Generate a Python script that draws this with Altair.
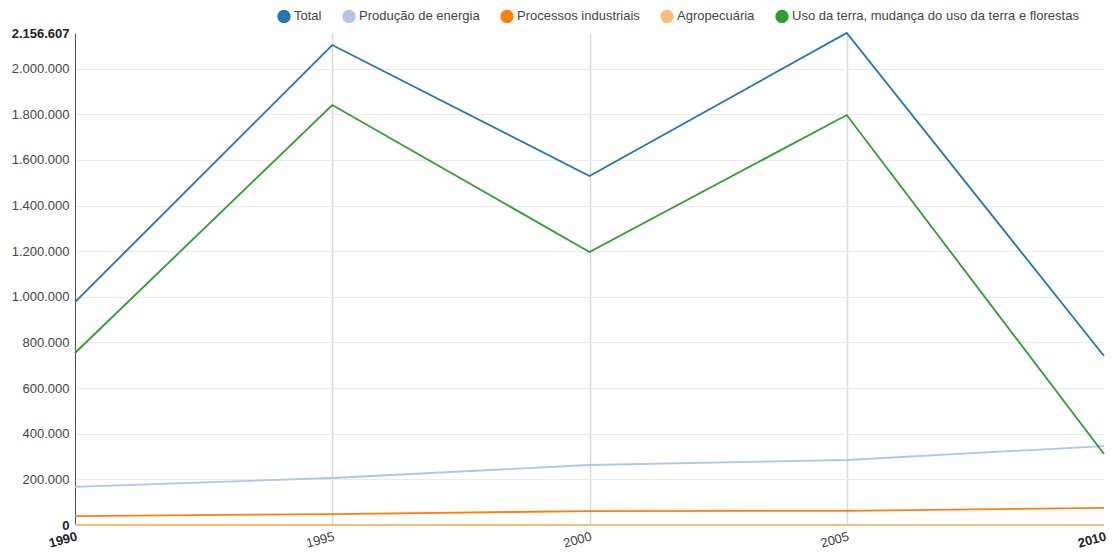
import altair as alt
import pandas as pd

# Emissões por setor (tCO2e), Brasil
anos = [1990, 1995, 2000, 2005, 2010]
total = [977000, 2104000, 1530000, 2156607, 741000]
producao_energia = [167000, 206000, 263000, 285000, 346000]
processos_industriais = [39000, 48000, 61000, 62000, 75000]
agropecuaria = [0, 0, 0, 0, 0]
uso_da_terra = [754000, 1841000, 1197000, 1797000, 311000]

series = {
    "Total": total,
    "Produção de energia": producao_energia,
    "Processos industriais": processos_industriais,
    "Agropecuária": agropecuaria,
    "Uso da terra, mudança do uso da terra e florestas": uso_da_terra,
}
nomes = list(series.keys())
cores = ["#1f77b4", "#aec7e8", "#ff7f0e", "#ffbb78", "#2ca02c"]

linhas = []
for nome, valores in series.items():
    for ano, v in zip(anos, valores):
        linhas.append({"Ano": ano, "Setor": nome, "Valor": v})
df = pd.DataFrame(linhas)

y_max = 2156607
y_ticks = [0, 200000, 400000, 600000, 800000, 1000000, 1200000,
           1400000, 1600000, 1800000, 2000000, y_max]

fmt_pt = "replace(format(datum.value, ','), regexp(',', 'g'), '.')"
extremos_y = f"datum.value == 0 || datum.value == {y_max}"
extremos_x = "datum.value == 1990 || datum.value == 2010"

chart = alt.Chart(df).mark_line(strokeWidth=1.8, interpolate="linear").encode(
    x=alt.X(
        "Ano:Q",
        scale=alt.Scale(domain=[1990, 2010], nice=False, zero=False),
        axis=alt.Axis(
            values=anos,
            format="d",
            title=None,
            labelAngle=345,
            labelAlign="right",
            labelBaseline="top",
            labelFontSize=13,
            labelColor={"condition": {"test": extremos_x, "value": "#222222"}, "value": "#444444"},
            labelFontWeight={"condition": {"test": extremos_x, "value": "bold"}, "value": "normal"},
            labelPadding=5,
            ticks=False,
            domain=False,
            grid=True,
            gridColor="#d9d9d9",
            gridWidth=1.5,
            gridOpacity={"condition": {"test": extremos_x, "value": 0}, "value": 1},
        ),
    ),
    y=alt.Y(
        "Valor:Q",
        scale=alt.Scale(domain=[0, y_max], nice=False),
        axis=alt.Axis(
            values=y_ticks,
            labelExpr=fmt_pt,
            title=None,
            labelFontSize=13,
            labelColor={"condition": {"test": extremos_y, "value": "#222222"}, "value": "#444444"},
            labelFontWeight={"condition": {"test": extremos_y, "value": "bold"}, "value": "normal"},
            ticks=False,
            labelPadding=6,
            domain=True,
            domainColor="#555555",
            domainWidth=1,
            grid=True,
            gridColor="#ebebeb",
            gridWidth=1,
            gridOpacity={"condition": {"test": f"datum.value == {y_max}", "value": 0}, "value": 1},
        ),
    ),
    color=alt.Color(
        "Setor:N",
        scale=alt.Scale(domain=nomes, range=cores),
        legend=alt.Legend(
            title=None,
            orient="none",
            direction="horizontal",
            legendX=202,
            legendY=-24,
            symbolType="circle",
            symbolSize=40,
            symbolStrokeWidth=7,
            symbolOpacity=1,
            labelFontSize=13,
            labelColor="#444444",
            labelLimit=400,
            columnPadding=9,
            labelOffset=3,
        ),
    ),
    order="Ano:Q",
).properties(
    width=1029,
    height=492,
    autosize=alt.AutoSizeParams(type="none"),
    padding={"left": 75, "top": 33, "right": 9, "bottom": 31},
).configure(
    font="Liberation Sans",
).configure_view(
    stroke=None,
)

chart.save("out.html", embed_options={"renderer": "svg", "actions": False})
